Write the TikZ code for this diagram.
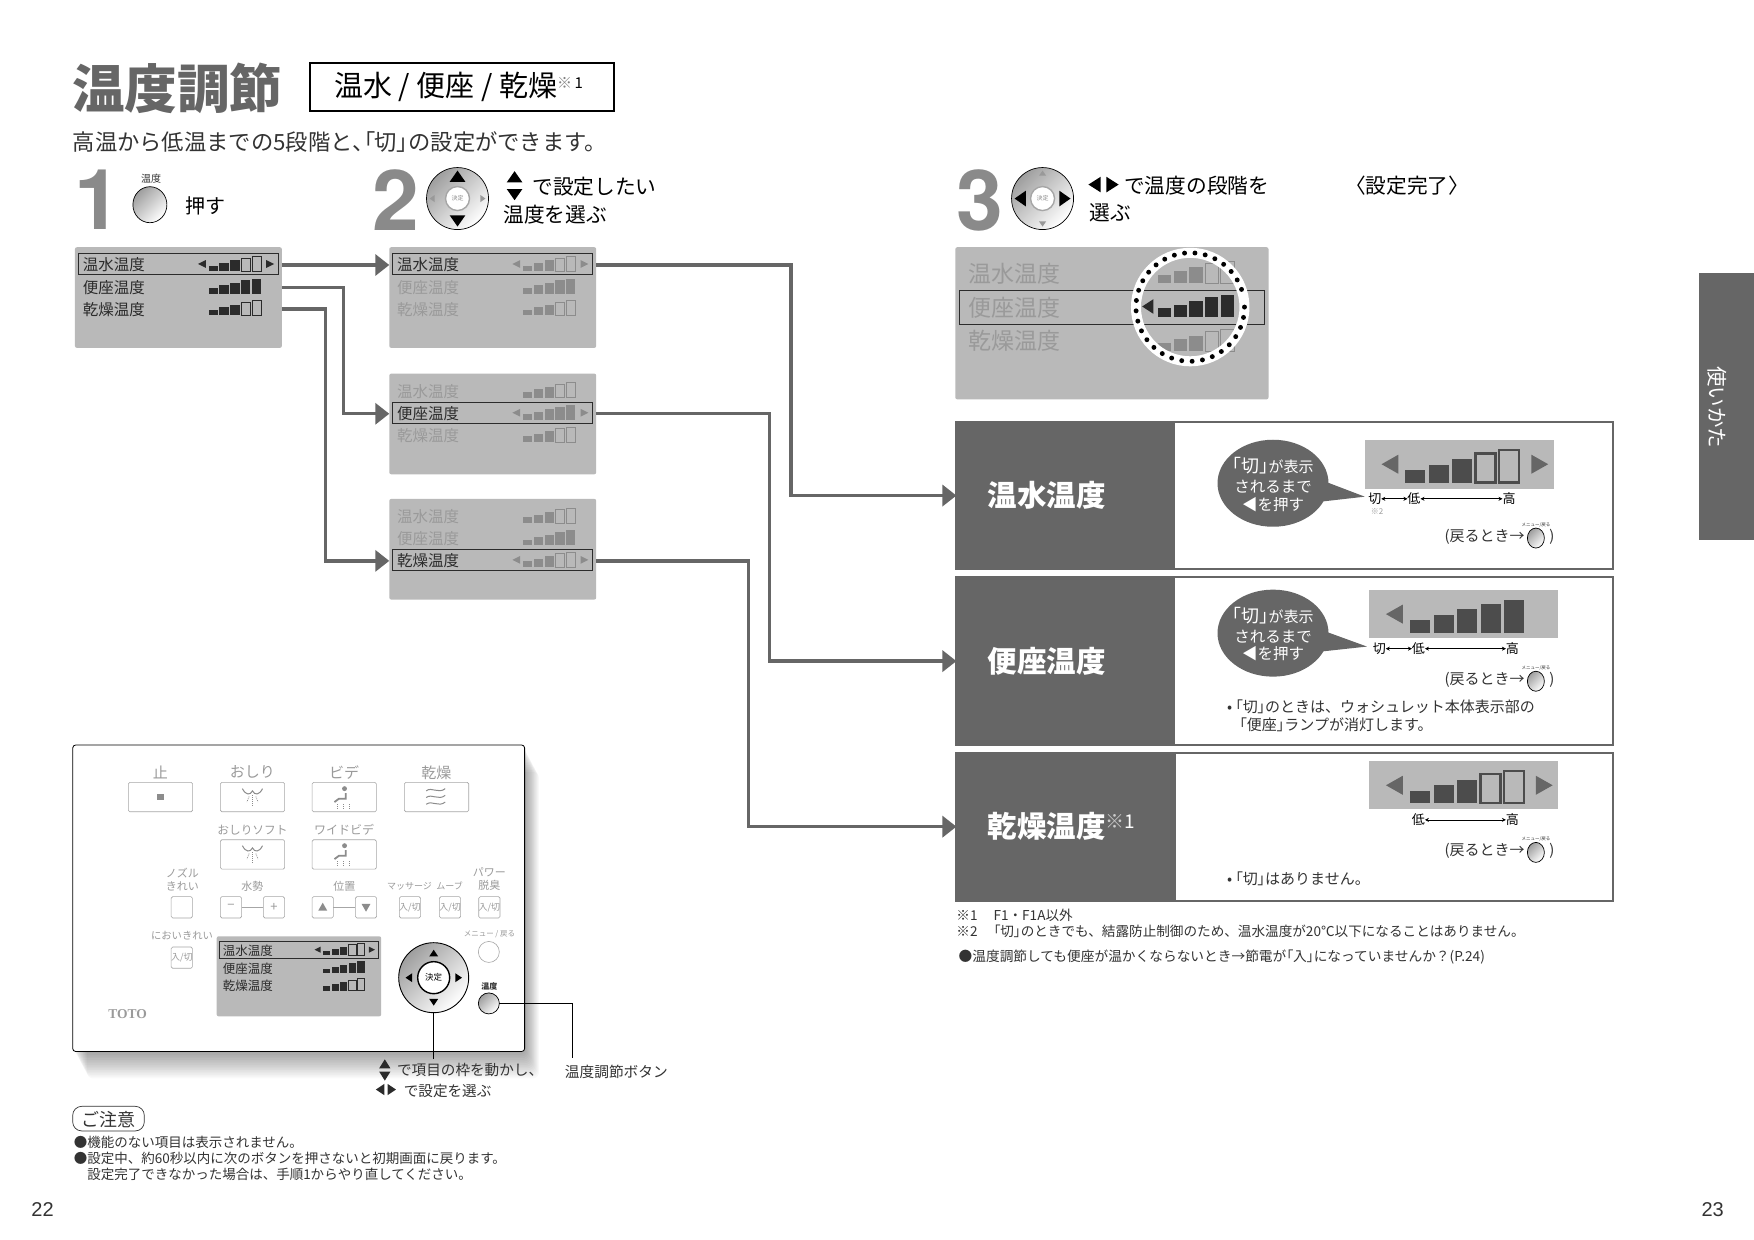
\documentclass[tikz,border=0pt]{standalone}
\usepackage{fontspec}
\setmainfont{Noto Sans CJK JP}
\newfontfamily\jpp{Noto Sans CJK JP}[RawFeature=+palt]
\newfontfamily\numfont{Liberation Sans}
\newfontfamily\stepfont{TeX Gyre Heros}
\usetikzlibrary{fit,shapes.geometric,arrows.meta}

\definecolor{ink}{HTML}{333333}
\definecolor{headgray}{HTML}{666666}
\definecolor{numgray}{HTML}{8A8A8A}
\definecolor{screengray}{HTML}{B9B9B9}
\definecolor{mutegray}{HTML}{9A9A9A}
\definecolor{bargray}{HTML}{8C8C8C}
\definecolor{bardark}{HTML}{2B2B2B}
\definecolor{keygray}{HTML}{A6A6A6}

\newcommand{\fsz}[1]{\fontsize{#1}{#1}\selectfont}
\newcommand{\kiri}{{\jpp「切」}}

\tikzset{
  txt/.style={inner sep=0, outer sep=0, anchor=west, text=ink, yshift=-1pt},
  ctxt/.style={inner sep=0, outer sep=0, text=ink, yshift=-1pt},
  screen/.style={fill=screengray, rounded corners=2pt, inner sep=0, outer sep=0},
  rowtext/.style={inner sep=0, outer sep=0, anchor=west, yshift=-1pt},
  rowframe/.style={draw=bardark, line width=.9pt},
  flow/.style={draw=headgray, line width=3.4pt, -{Triangle[length=14pt,width=21pt]}},
  resbox/.style={draw=headgray, line width=2pt, inner sep=0, outer sep=0},
  reshead/.style={fill=headgray, inner sep=0, outer sep=0},
  headtext/.style={inner sep=0, outer sep=0, anchor=west, text=white, font=\fsz{29.5}\bfseries},
  scaleline/.style={draw=black, line width=.6pt, {Stealth[length=4pt,width=4pt]}-{Stealth[length=4pt,width=4pt]}},
  bubble/.style={ellipse, fill=headgray, inner sep=0, outer sep=0, minimum width=111pt, minimum height=87pt},
  pushbtn/.style={ellipse, draw=black, line width=.7pt, inner sep=0, outer sep=0, top color=black!38, middle color=white, bottom color=white, shading angle=45},
  keybox/.style={draw=keygray, line width=.6pt, rounded corners=1.5pt, inner sep=0, outer sep=0},
  keytext/.style={inner sep=0, outer sep=0, text=mutegray},
  leader/.style={draw=black, line width=.7pt},
  icon/.style={draw=bargray, line width=1pt},
}

\newcommand{\triH}[5]{\fill[#1] (#2,#3) -- ++(#4,-#5) -- ++(0,2*#5) -- cycle;}
\newcommand{\triV}[5]{\fill[#1] (#2,#3) -- ++(-#5,#4) -- ++(2*#5,0) -- cycle;}

\newcommand{\levelbars}[6][.8pt]{
  \begin{scope}[shift={(#2,#3)},scale=#4]
    \foreach \i/\h in {0/11,1/16,2/21,3/26,4/29}{
      \ifnum\i<#5
        \fill[#6] (\i*21,0) rectangle ++(18,-\h);
      \else
        \draw[#6,line width=#1] (\i*21,0) rectangle ++(18,-\h);
      \fi
    }
  \end{scope}
}

\newcommand{\menupanel}[9]{
  \begin{scope}[shift={(#2,#3)},scale=#4]
    \node[screen, fit={(0,0) (185,90)}] (#1) {};
    \foreach \r/\ly/\lab/\n in {1/15/温水温度/3,2/35/便座温度/5,3/54.5/乾燥温度/3}{
      \ifnum\r=#5 \def\rowc{#6}\else\def\rowc{#7}\fi
      \node[rowtext,text=\rowc] (#1-row\r) at (7,\ly) {\fsz{#9}\lab};
      \levelbars[.7pt]{119.5}{\ly+6.5}{.46}{\n}{#8}
      \ifnum\r=#5
        \draw[rowframe] (3,\ly-9.5) rectangle (182,\ly+9.5);
        \triH{#8}{110}{\ly}{7}{3.5}
        \triH{#8}{178}{\ly}{-7}{3.5}
      \fi
    }
  \end{scope}
}

\newcommand{\stepdial}[7]{
  \node[pushbtn, circle, minimum size=62pt] (#1) at (#2,#3) {};
  \node[circle, draw=black!35, line width=1.4pt, fill=white, inner sep=0, minimum size=24pt, text=black!45] (#1-ok) at (#2,#3) {\fsz{6}決定};
  \triV{#4}{#2}{#3-25}{10*#6}{7*#6}
  \triV{#4}{#2}{#3+25}{-10*#6}{7*#6}
  \triH{#5}{#2-25}{#3}{10*#7}{7*#7}
  \triH{#5}{#2+25}{#3}{-10*#7}{7*#7}
}

\newcommand{\backhint}[2]{
  \node[txt, anchor=east] (#1-text) at (1363,#2) {\fsz{15}(戻るとき→};
  \node[pushbtn, minimum width=17pt, minimum height=20pt] (#1-btn) at (1373,#2+2) {};
  \node[ctxt] (#1-tiny) at (1373,#2-10.5) {\fsz{4.5}メニュー/戻る};
  \node[txt] (#1-close) at (1385,#2) {\fsz{15})};
}

\newcommand{\topkey}[4]{
  \node[keybox, fit={(#2,#3) (#2+57.5,#3+26.3)}] (#1) {};
  \node[keytext] (#1-label) at (#2+28.7,#3-9) {\fsz{15}#4};
}

\newcommand{\smallkey}[3]{
  \node[keybox, fit={(#2,#3) (#2+19,#3+19)}] (#1) {};
}

\newcommand{\hipicon}[2]{
  \draw[icon] (#1-9,#2-4) .. controls (#1-6,#2+2) and (#1-2,#2+2) .. (#1,#2-2) .. controls (#1+2,#2+2) and (#1+6,#2+2) .. (#1+9,#2-4);
  \draw[icon, densely dotted, line width=.7pt] (#1,#2+2) -- (#1,#2+11);
  \draw[icon, densely dotted, line width=.7pt] (#1-3,#2+3) -- (#1-5,#2+8);
  \draw[icon, densely dotted, line width=.7pt] (#1+3,#2+3) -- (#1+5,#2+8);
}

\newcommand{\seaticon}[2]{
  \fill[bargray] (#1+2,#2-7) circle (2.2);
  \draw[icon, line width=1.8pt] (#1+3,#2-3) -- (#1+3,#2+2) -- (#1-3,#2+2) -- (#1-7,#2+5);
  \draw[icon, densely dotted, line width=.7pt] (#1-4,#2+7) -- (#1-4,#2+12);
  \draw[icon, densely dotted, line width=.7pt] (#1+1,#2+7) -- (#1+1,#2+12);
  \draw[icon, densely dotted, line width=.7pt] (#1+6,#2+7) -- (#1+6,#2+12);
}

\begin{document}
\begin{tikzpicture}[x=1.1186pt,y=-1.1186pt]
  \useasboundingbox (0,0) rectangle (1568,1108.5);
  \fill[white] (0,0) rectangle (1568,1108.5);

  \node[ctxt, text=headgray] (title) at (158.5,78) {\fsz{52.6}\bfseries 温度調節};
  \node[draw=black, line width=1.8pt, inner sep=0, outer sep=0, fit={(277,56) (549,99)}] (titlebox) {};
  \node[txt, text=black] (titlesub) at (299,77) {\fsz{29}温水 / 便座 / 乾燥\raisebox{8pt}{\fsz{15}\textcolor{black!50}{※}\,1}};
  \node[txt] (intro) at (65,126) {\fsz{22.3}高温から低温までの5段階と{\jpp、「切」}の設定ができます。};

  \node[ctxt, text=numgray] (stepone) at (87.5,178) {\stepfont\bfseries\fsz{84}1};
  \node[ctxt] (tempcap) at (135,159) {\fsz{10}温度};
  \node[pushbtn, minimum width=34pt, minimum height=36pt] (tempkey) at (134,183) {};
  \node[txt, text=black] (pushtxt) at (166,183) {\fsz{20}押す};

  \node[ctxt, text=numgray] (steptwo) at (353.5,178) {\stepfont\bfseries\fsz{84}2};
  \stepdial{dialA}{409}{177.5}{black}{black!40}{1}{.45}
  \triV{black}{460}{153}{10}{7}
  \triV{black}{460}{179}{-10}{7}
  \node[txt, text=black] (twoA) at (476,166) {\fsz{20.7}で設定したい};
  \node[txt, text=black] (twoB) at (450,191) {\fsz{20.7}温度を選ぶ};

  \node[ctxt, text=numgray] (stepthree) at (876,178) {\stepfont\bfseries\fsz{84}3};
  \stepdial{dialB}{932}{177.5}{black!40}{black}{.45}{1}
  \triH{black}{973}{165}{11}{7}
  \triH{black}{1000}{165}{-11}{7}
  \node[txt, text=black] (threeA) at (1005,165) {\fsz{20.7}で温度の段階を};
  \node[txt, text=black] (threeB) at (974,189) {\fsz{20.7}選ぶ};
  \node[ctxt, text=black] (donetxt) at (1258,165) {\fsz{20.7}〈設定完了〉};

  \menupanel{panelA}{67}{221}{1}{1}{bardark}{bardark}{bardark}{15.5}
  \menupanel{panelB}{348}{221}{1}{1}{bardark}{mutegray}{bargray}{15.5}
  \menupanel{panelC}{348}{334}{1}{2}{bardark}{mutegray}{bargray}{15.5}
  \menupanel{panelD}{348}{446}{1}{3}{bardark}{mutegray}{bargray}{15.5}

  \node[screen, fit={(854,221) (1134,357)}] (panelE) {};
  \node[rowtext, text=mutegray] (eRowA) at (866,244) {\fsz{23}温水温度};
  \node[rowtext, text=mutegray] (eRowB) at (866,274) {\fsz{23}便座温度};
  \node[rowtext, text=mutegray] (eRowC) at (866,304) {\fsz{23}乾燥温度};
  \draw[rowframe] (858,260) rectangle (1130,290);
  \levelbars{1035}{253}{.67}{3}{bargray}
  \levelbars{1035}{314}{.67}{3}{bargray}
  \levelbars{1035}{283}{.67}{5}{bardark}
  \triH{bardark}{1021}{274}{10}{6.5}
  \draw[white, line width=10pt] (1064,274.5) circle (48.5);
  \foreach \a in {0,11,...,350}
    \fill[black] (1064,274.5) ++(\a:48.5) circle (2.2);

  \node[resbox, fit={(855,377) (1442,509)}] (boxA) {};
  \node[reshead, fit={(855,377) (1050,509)}] (headA) {};
  \node[headtext] (headAtxt) at (883,443) {温水温度};
  \node[resbox, fit={(855,516) (1442,666)}] (boxB) {};
  \node[reshead, fit={(855,516) (1050,666)}] (headB) {};
  \node[headtext] (headBtxt) at (883,591) {便座温度};
  \node[resbox, fit={(855,673) (1442,805)}] (boxC) {};
  \node[reshead, fit={(855,673) (1051,805)}] (headC) {};
  \node[headtext] (headCtxt) at (883,739) {乾燥温度\raisebox{9pt}{\fsz{19}\mdseries\textcolor{black!20}{※}1}};

  \draw[flow] (panelA.east |- panelA-row1) -- (panelB.west |- panelA-row1);
  \draw[flow] (panelA.east |- panelA-row2) -- ++(55,0) |- (panelC.west |- panelC-row2);
  \draw[flow] (panelA.east |- panelA-row3) -- ++(39,0) |- (panelD.west |- panelD-row3);
  \draw[flow] (panelB.east |- panelB-row1) -- ++(174,0) |- (headA.west);
  \draw[flow] (panelC.east |- panelC-row2) -- ++(155,0) |- (headB.west);
  \draw[flow] (panelD.east |- panelD-row3) -- ++(136,0) |- (headC.west);

  \fill[screengray] (1220,393) rectangle (1389,437);
  \triH{headgray}{1235}{415}{15}{8.5}
  \triH{headgray}{1384}{415}{-15}{8.5}
  \levelbars[2.4pt]{1256}{431.5}{1}{3}{black!70}
  \fill[headgray] (1178,428) -- (1220,444) -- (1176,449) -- cycle;
  \node[bubble] (bubbleA) at (1138,432) {};
  \node[ctxt, align=center, text=white] (bubbleAtxt) at (bubbleA) {\fsz{18}\kiri\fsz{15}が表示\\[5pt]\fsz{15.5}されるまで\\[3pt]\fsz{15.5}◀を押す};
  \node[ctxt, text=black] (cutA) at (1229,445) {\fsz{13}切};
  \node[ctxt, text=black] (lowA) at (1264,445) {\fsz{13}低};
  \node[ctxt, text=black] (highA) at (1349,445) {\fsz{13}高};
  \draw[scaleline] (cutA) -- (lowA);
  \draw[scaleline] (lowA) -- (highA);
  \node[ctxt, text=mutegray] (noteA) at (1231,456) {\fsz{8}※2};
  \backhint{backA}{479}

  \fill[screengray] (1224,527.5) rectangle (1393,570);
  \triH{headgray}{1239}{549}{15}{8.5}
  \levelbars[2.4pt]{1260.5}{565.5}{1}{5}{black!70}
  \fill[headgray] (1178,562) -- (1222,578) -- (1176,583) -- cycle;
  \node[bubble] (bubbleB) at (1138,566) {};
  \node[ctxt, align=center, text=white] (bubbleBtxt) at (bubbleB) {\fsz{18}\kiri\fsz{15}が表示\\[5pt]\fsz{15.5}されるまで\\[3pt]\fsz{15.5}◀を押す};
  \node[ctxt, text=black] (cutB) at (1233,579) {\fsz{13}切};
  \node[ctxt, text=black] (lowB) at (1268,579) {\fsz{13}低};
  \node[ctxt, text=black] (highB) at (1352,579) {\fsz{13}高};
  \draw[scaleline] (cutB) -- (lowB);
  \draw[scaleline] (lowB) -- (highB);
  \backhint{backB}{607}
  \node[txt] (tipBa) at (1097,631) {\fsz{15}•\hspace{3pt}\kiri のときは、ウォシュレット本体表示部の};
  \node[txt] (tipBb) at (1108,647) {\fsz{15}{\jpp「便座」}ランプが消灯します。};

  \fill[screengray] (1224,680.5) rectangle (1393,723);
  \triH{headgray}{1239}{702}{15}{8.5}
  \triH{headgray}{1388}{702}{-15}{8.5}
  \levelbars[2.4pt]{1260.5}{718}{1}{3}{black!70}
  \node[ctxt, text=black] (lowC) at (1268,732) {\fsz{13}低};
  \node[ctxt, text=black] (highC) at (1352,732) {\fsz{13}高};
  \draw[scaleline] (lowC) -- (highC);
  \backhint{backC}{760}
  \node[txt] (tipC) at (1097,785) {\fsz{15}•\hspace{3pt}\kiri はありません。};

  \node[txt] (footA) at (855,817) {\fsz{13.6}※1\hspace{16pt}F1・F1A以外};
  \node[txt] (footB) at (855,832) {\fsz{13.6}※2\hspace{16pt}{\jpp「切」}のときでも、結露防止制御のため、温水温度が20℃以下になることはありません。};
  \node[txt] (footC) at (857,854.5) {\fsz{13.7}●温度調節しても便座が温かくならないとき→節電が{\jpp「入」}になっていませんか？(P.24)};

  \fill[headgray] (1519,244) rectangle (1568,483);
  \node[ctxt, text=white, rotate=-90] (tabtxt) at (1535,363) {\fsz{20.5}使いかた};

  \foreach \o in {1,...,16}
    \fill[black, opacity=.024, rounded corners=6pt] (65+.8*\o,666+1.5*\o) rectangle (469+.8*\o,940+1.5*\o);
  \node[draw=black, line width=.8pt, fill=white, rounded corners=3pt, inner sep=0, outer sep=0, fit={(65,666) (469,940)}] (remote) {};

  \topkey{stopKey}{114.7}{699.4}{止}
  \topkey{hipKey}{197}{699.4}{おしり}
  \topkey{bidetKey}{279}{699.4}{ビデ}
  \topkey{dryKey}{361.5}{699.4}{乾燥}
  \topkey{softKey}{197}{750.7}{\fsz{11.7}おしりソフト}
  \topkey{wideKey}{279}{750.7}{\fsz{12}ワイドビデ}
  \fill[bargray] (140.5,709.5) rectangle (146.5,715.5);
  \hipicon{225.7}{709}
  \seaticon{306}{712}
  \hipicon{225.7}{760}
  \seaticon{306}{763}
  \foreach \w in {706,712,718}
    \draw[icon] (381,\w+1) .. controls (386,\w-3) and (392,\w+4) .. (398,\w-1);

  \node[keytext, align=center] (nozzleCap) at (163,786) {\fsz{11}ノズル\\[1pt]\fsz{11}きれい};
  \node[keytext] (flowCap) at (225.6,792) {\fsz{11}水勢};
  \node[keytext] (posCap) at (307.8,792) {\fsz{11}位置};
  \node[keytext] (massCap) at (366,792) {\fsz{9}マッサージ};
  \node[keytext] (moveCap) at (402,792) {\fsz{9}ムーブ};
  \node[keytext, align=center] (powerCap) at (437.5,786) {\fsz{11}パワー\\[1pt]\fsz{11}脱臭};
  \smallkey{nozzleKey}{153}{801.6}
  \smallkey{minusKey}{197}{801.6}
  \smallkey{plusKey}{235.4}{801.6}
  \smallkey{upKey}{279}{801.6}
  \smallkey{downKey}{317.7}{801.6}
  \smallkey{massKey}{357}{801.6}
  \smallkey{moveKey}{392.8}{801.6}
  \smallkey{powerKey}{428}{801.6}
  \smallkey{smellKey}{153}{846.6}
  \draw[keygray, line width=1.2pt] (minusKey) -- (plusKey);
  \draw[keygray, line width=1.2pt] (upKey) -- (downKey);
  \node[keytext] at (minusKey) {\fsz{13}−};
  \node[keytext] at (plusKey) {\fsz{13}+};
  \triV{bargray}{288.5}{807}{7}{4}
  \triV{bargray}{327.2}{815}{-7}{4}
  \foreach \k in {massKey,moveKey,powerKey,smellKey}
    \node[keytext] at (\k) {\fsz{9}入/切};
  \node[keytext] (smellCap) at (162.7,836.8) {\fsz{10.3}においきれい};

  \menupanel{panelF}{193.7}{837}{.795}{1}{bardark}{bardark}{bardark}{12.5}
  \node[ctxt, text=mutegray] (brand) at (114,906) {\fontspec{Liberation Serif}\bfseries\fsz{13.5}TOTO};

  \node[pushbtn, circle, line width=.9pt, minimum size=70pt] (moveDial) at (387.7,874) {};
  \node[circle, draw=black, line width=1.4pt, fill=white, inner sep=0, minimum size=32pt] (okKey) at (387.7,874) {\fsz{8.5}決定};
  \triV{black}{387.7}{849}{6}{4}
  \triV{black}{387.7}{899}{-6}{4}
  \triH{black}{362.5}{874}{6}{4}
  \triH{black}{413}{874}{-6}{4}

  \node[keytext] (menuCap) at (437.5,835) {\fsz{7.5}メニュー / 戻る};
  \node[circle, draw=keygray, line width=.6pt, fill=white, inner sep=0, outer sep=0, minimum size=21pt] (menuKey) at (437,851) {};
  \node[ctxt] (tempCapB) at (437.5,881.2) {\fsz{8}\bfseries 温度};
  \node[pushbtn, circle, minimum size=21pt] (tempKeyB) at (437,897) {};

  \coordinate (moveEnd) at (387.7,947);
  \coordinate (tempEnd) at (512,946);
  \draw[leader] (moveDial.south) -- (moveEnd);
  \draw[leader] (tempKeyB.east) -| (tempEnd);
  \triV{bardark}{344}{947}{8}{5}
  \triV{bardark}{344}{966}{-8}{5}
  \triH{bardark}{336}{974}{7.5}{5}
  \triH{bardark}{354}{974}{-7.5}{5}
  \node[txt] (moveA) at (355,956) {\fsz{14.6}で項目の枠を動かし、};
  \node[txt] (moveB) at (361,974) {\fsz{14.6}で設定を選ぶ};
  \node[txt] (tempLabel) at (505,957) {\fsz{14.7}温度調節ボタン};

  \node[draw=ink, line width=.7pt, rounded corners=9pt, inner sep=0, outer sep=0, fit={(65,989) (129,1011)}] (cautionBox) {};
  \node[ctxt] (cautionTxt) at (97,1000) {\fsz{18}ご注意};
  \node[txt] (cautionA) at (66,1020) {\fsz{13.5}●機能のない項目は表示されません。};
  \node[txt] (cautionB) at (66,1035) {\fsz{13.5}●設定中、約60秒以内に次のボタンを押さないと初期画面に戻ります。};
  \node[txt] (cautionC) at (78,1049) {\fsz{13.5}設定完了できなかった場合は、手順1からやり直してください。};

  \node[ctxt] (pageL) at (38,1080) {\numfont\fsz{20}22};
  \node[ctxt] (pageR) at (1531,1080) {\numfont\fsz{20}23};
\end{tikzpicture}
\end{document}
